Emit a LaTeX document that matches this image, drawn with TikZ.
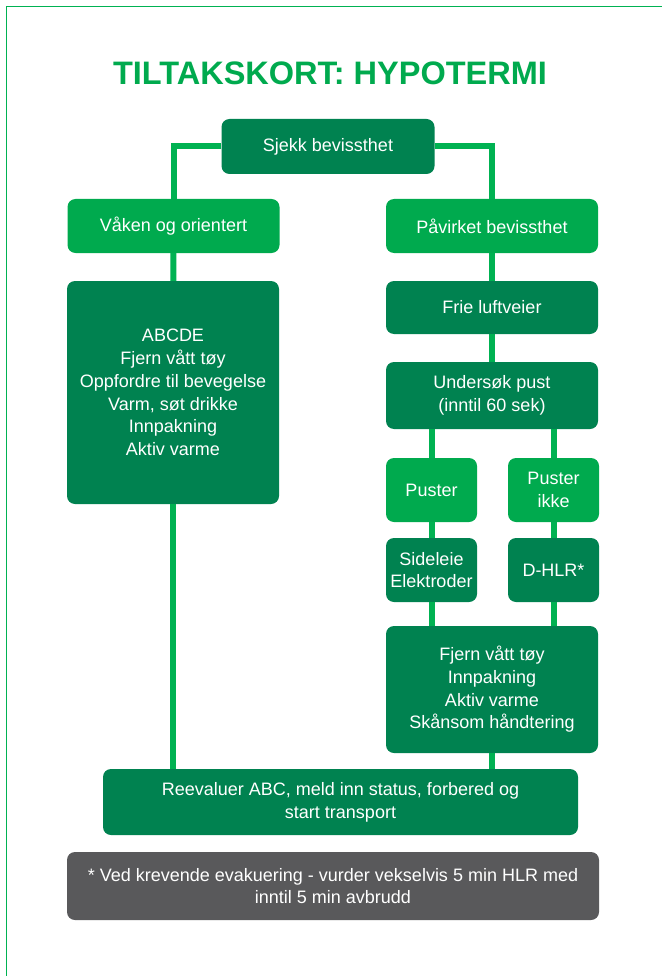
\documentclass[tikz,border=0pt]{standalone}
\usepackage{fontspec}
\setmainfont{Liberation Sans}
\usepackage{tikz}
\definecolor{darkgreen}{RGB}{0,130,80}
\definecolor{lightgreen}{RGB}{0,170,78}
\definecolor{linegreen}{RGB}{0,178,82}
\definecolor{notegray}{RGB}{89,89,91}

\begin{document}
\begin{tikzpicture}[x=1pt,y=-1pt]
		\tikzstyle{Box} = [rectangle, rounded corners=8pt, align=center, text=white, inner sep=0pt, font=\fontsize{18}{22.7}\selectfont]
		\tikzstyle{Dark} = [Box, fill=darkgreen]
		\tikzstyle{Light} = [Box, fill=lightgreen]
		\tikzstyle{Note} = [Box, fill=notegray]
		\tikzstyle{Wide} = [minimum width=212pt]
		\tikzstyle{Narrow} = [minimum width=91pt]
		\tikzstyle{link} = [line width=6pt, linegreen]
		
		\useasboundingbox (0,0) rectangle (662,976);
		\fill [white] (0,0) rectangle (662,976);
		\draw [line width=1.5pt, linegreen] (6.5,976) -- (6.5,6.5) -- (662,6.5);
		
		\node (title) [font=\fontsize{32.5}{36}\selectfont\bfseries, text=lightgreen, anchor=base] at (330,85) {TILTAKSKORT: HYPOTERMI};
		
		\node (sjekk) [Dark, minimum width=213pt, minimum height=55pt] at (328,146.5) {Sjekk bevissthet};
		\node (vaaken) [Light, Wide, minimum height=54pt] at (173.5,226) {Våken og orientert};
		\node (paavirket) [Light, Wide, minimum height=54pt] at (492,226) {Påvirket bevissthet};
		
		% venstre side
		\node (abcde) [Dark, Wide, minimum height=223pt] at (173,392.5) {ABCDE\\Fjern vått tøy\\Oppfordre til bevegelse\\Varm, søt drikke\\Innpakning\\Aktiv varme};
		
		% høyre side
		\node (frie) [Dark, Wide, minimum height=53pt] at (492,307.5) {Frie luftveier};
		\node (pust) [Dark, Wide, minimum height=67pt] at (492,395.5) {Undersøk pust\\(inntil 60 sek)};
		\node (puster) [Light, Narrow, minimum height=64pt] at (431.5,490) {Puster};
		\node (pusterikke) [Light, Narrow, minimum height=64pt] at (553.5,490) {Puster\\ikke};
		\node (sideleie) [Dark, Narrow, minimum height=64pt] at (431.5,570) {Sideleie\\Elektroder};
		\node (dhlr) [Dark, Narrow, minimum height=64pt] at (553.5,570) {D-HLR*};
		\node (fjern) [Dark, Wide, minimum height=127pt] at (492,689.5) {Fjern vått tøy\\Innpakning\\Aktiv varme\\Skånsom håndtering};
		
		\node (reeval) [Dark, minimum width=475pt, minimum height=66pt] at (340.5,802) {Reevaluer ABC, meld inn status, forbered og\\start transport};
		\node (note) [Note, minimum width=532pt, minimum height=68pt] at (333,886) {* Ved krevende evakuering - vurder vekselvis 5 min HLR med\\inntil 5 min avbrudd};
		
		\draw [link] (sjekk.west) -| (vaaken.north);
		\draw [link] (sjekk.east) -| (paavirket.north);
		\draw [link] (vaaken) -- (abcde);
		\draw [link] (abcde.south) -- (abcde.south |- reeval.north);
		\draw [link] (paavirket) -- (frie);
		\draw [link] (frie) -- (pust);
		\draw [link] (puster.north |- pust.south) -- (puster.north);
		\draw [link] (pusterikke.north |- pust.south) -- (pusterikke.north);
		\draw [link] (puster) -- (sideleie);
		\draw [link] (pusterikke) -- (dhlr);
		\draw [link] (sideleie.south |- fjern.north) -- (sideleie.south);
		\draw [link] (dhlr.south |- fjern.north) -- (dhlr.south);
		\draw [link] (fjern.south) -- (fjern.south |- reeval.north);
\end{tikzpicture}
\end{document}
